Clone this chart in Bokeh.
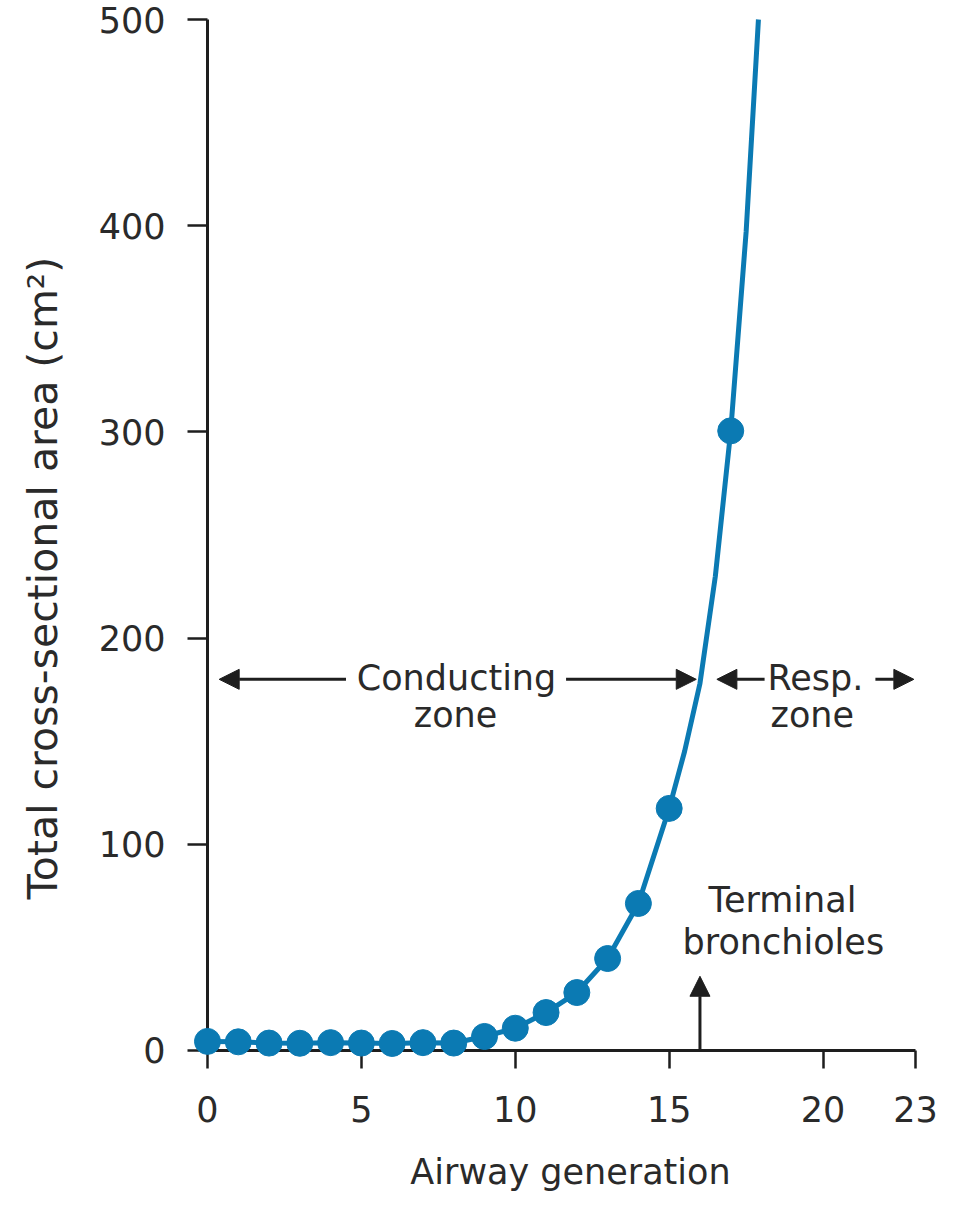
from bokeh.plotting import figure
from bokeh.models import Range1d, FixedTicker, Arrow, NormalHead, LinearAxis
from bokeh.core.properties import value
from bokeh.embed import file_html
from bokeh.resources import INLINE

# ---- data ----
generation = [0, 1, 2, 3, 4, 5, 6, 7, 8, 9, 10, 11, 12, 13, 14, 15, 17]
area = [4.4, 4.2, 3.6, 3.5, 3.8, 3.6, 3.4, 3.8, 3.6, 6.8, 10.8, 18.4, 28.1, 44.6, 71.3, 117.4, 300.5]

# curve through the points (extra points)
curve_gen = [0, 1, 2, 3, 4, 5, 6, 7, 8, 9, 10, 11, 12, 13, 14, 15, 15.5, 16, 16.5, 17, 17.5, 17.9]
curve_area = [4.4, 4.2, 3.6, 3.5, 3.8, 3.6, 3.4, 3.8, 3.6, 6.8, 10.8, 18.4, 28.1, 44.6, 71.3, 117.4,
              145, 178, 230, 300.5, 397, 500]

x_ticks = [0, 5, 10, 15, 20, 23]
y_ticks = [0, 100, 200, 300, 400, 500]

FONT = "DejaVu Sans"
BLUE = "#0b7ab3"
INK = "#1e1e1e"
TXT = "#2a2a2a"

W, H = 960, 1200
p = figure(width=W, height=H,
           x_range=Range1d(-6.725, 24.465), y_range=Range1d(-72.75, 509.21),
           output_backend="svg", toolbar_location=None,
           min_border_left=0, min_border_right=0,
           min_border_top=0, min_border_bottom=0)

p.outline_line_color = None
p.xgrid.visible = False
p.ygrid.visible = False
p.background_fill_color = "white"
p.border_fill_color = "white"

# main axes, pinned at the data origin
for ax in (p.xaxis[0], p.yaxis[0]):
    ax.fixed_location = 0
    ax.axis_line_width = 3
    ax.axis_line_color = INK
    ax.major_tick_line_width = 2.5
    ax.major_tick_line_color = INK
    ax.major_tick_in = 0
    ax.minor_tick_line_color = None
    ax.major_label_text_font = FONT
    ax.major_label_text_font_size = "35px"
    ax.major_label_text_color = TXT

xa = p.xaxis[0]
ya = p.yaxis[0]
xa.bounds = (0, 23)
ya.bounds = (0, 500)
xa.ticker = FixedTicker(ticks=x_ticks)
ya.ticker = FixedTicker(ticks=y_ticks)
xa.major_tick_out = 18
ya.major_tick_out = 20
xa.major_label_standoff = 28
ya.major_label_standoff = 22

# axis titles (carried by label-only axes so they sit where the reference puts them)
xtitle = LinearAxis(fixed_location=0, bounds=(0, 23.59), ticker=FixedTicker(ticks=[]),
                    axis_line_color=None, major_tick_line_color=None, minor_tick_line_color=None,
                    axis_label="Airway generation", axis_label_standoff=101,
                    axis_label_text_font=FONT, axis_label_text_font_size="35px",
                    axis_label_text_font_style="normal", axis_label_text_color=TXT)
ytitle = LinearAxis(fixed_location=0, bounds=(0, 458.3), ticker=FixedTicker(ticks=[]),
                    axis_line_color=None, major_tick_line_color=None, minor_tick_line_color=None,
                    axis_label="Total cross-sectional area (cm\u00b2)", axis_label_standoff=141,
                    axis_label_text_font=FONT, axis_label_text_font_size="41px",
                    axis_label_text_font_style="normal", axis_label_text_color=TXT)
p.add_layout(xtitle, "below")
p.add_layout(ytitle, "left")

# curve and points
p.line(curve_gen, curve_area, line_color=BLUE, line_width=5)
p.scatter(generation, area, size=26, fill_color=BLUE, line_color=BLUE, level="overlay")

# annotations
label_x = [8.09, 8.06, 19.75, 19.65, 18.68, 18.71]
label_y = [180.5, 162.5, 180.5, 162.5, 73.2, 52.8]
label_text = ["Conducting", "zone", "Resp.", "zone", "Terminal", "bronchioles"]
p.text(x=label_x, y=label_y, text=label_text,
       text_font=value(FONT), text_font_size="35px",
       text_align="center", text_baseline="alphabetic", text_color=TXT)

arrow_x0 = [4.5, 11.65, 18.1, 21.7, 16.0]
arrow_y0 = [180, 180, 180, 180, 0]
arrow_x1 = [0.38, 15.88, 16.55, 22.95, 16.0]
arrow_y1 = [180, 180, 180, 180, 36]
for xs, ys, xe, ye in zip(arrow_x0, arrow_y0, arrow_x1, arrow_y1):
    p.add_layout(Arrow(end=NormalHead(size=20, fill_color=INK, line_color=INK, line_width=1),
                       x_start=xs, y_start=ys, x_end=xe, y_end=ye,
                       line_width=3, line_color=INK))

open("out.html", "w").write(file_html(p, INLINE))
